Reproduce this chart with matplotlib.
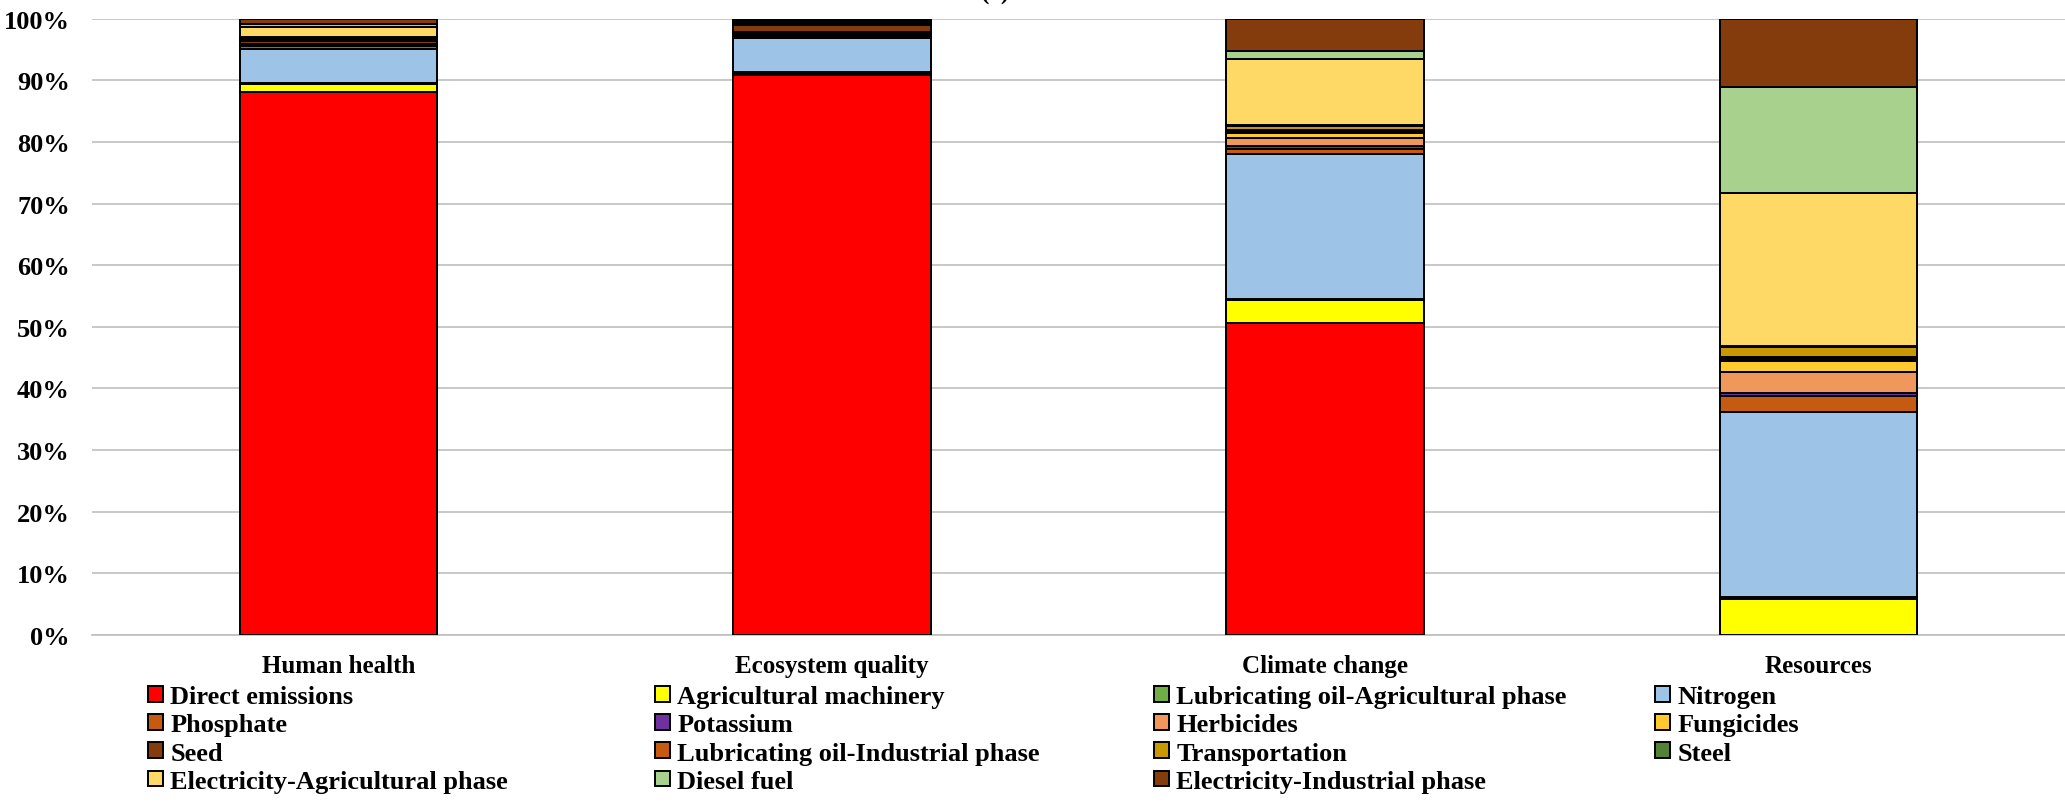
import matplotlib
matplotlib.use("Agg")
import matplotlib.pyplot as plt
from matplotlib.patches import Patch
import numpy as np

plt.rcParams['font.family'] = ['Liberation Serif', 'DejaVu Serif']
plt.rcParams['font.weight'] = 'bold'

categories = ["Human health", "Ecosystem quality", "Climate change", "Resources"]

series_names = [
    "Direct emissions", "Agricultural machinery", "Lubricating oil-Agricultural phase", "Nitrogen",
    "Phosphate", "Potassium", "Herbicides", "Fungicides",
    "Seed", "Lubricating oil-Industrial phase", "Transportation", "Steel",
    "Electricity-Agricultural phase", "Diesel fuel", "Electricity-Industrial phase",
]

# percentage contributions per category (Human health, Ecosystem quality, Climate change, Resources)
direct_emissions = [88.1, 90.8, 50.6, 0.0]
agricultural_machinery = [1.3, 0.3, 3.8, 5.8]
lub_oil_agricultural = [0.1, 0.1, 0.1, 0.4]
nitrogen = [5.6, 5.6, 23.5, 30.0]
phosphate = [0.4, 0.3, 0.9, 2.6]
potassium = [0.1, 0.1, 0.4, 0.5]
herbicides = [0.1, 0.2, 1.3, 3.3]
fungicides = [0.2, 0.4, 0.8, 1.8]
seed = [0.5, 1.0, 0.4, 0.4]
lub_oil_industrial = [0.3, 0.2, 0.1, 0.3]
transportation = [0.2, 0.2, 0.7, 1.7]
steel = [0.1, 0.1, 0.1, 0.1]
electricity_agricultural = [1.7, 0.2, 10.8, 24.8]
diesel_fuel = [0.4, 0.1, 1.2, 17.2]
electricity_industrial = [0.9, 0.3, 5.3, 11.1]

series_values = [
    direct_emissions, agricultural_machinery, lub_oil_agricultural, nitrogen,
    phosphate, potassium, herbicides, fungicides,
    seed, lub_oil_industrial, transportation, steel,
    electricity_agricultural, diesel_fuel, electricity_industrial,
]

colors = [
    "#FF0000", "#FFFF00", "#70AD47", "#9DC3E6",
    "#C55A11", "#7030A0", "#F0985C", "#FFCA2E",
    "#843C0C", "#C55A11", "#C99700", "#548235",
    "#FFD966", "#A9D18E", "#843C0C",
]

y_ticks = [0, 10, 20, 30, 40, 50, 60, 70, 80, 90, 100]
y_tick_labels = ["0%", "10%", "20%", "30%", "40%", "50%", "60%", "70%", "80%", "90%", "100%"]

W, H = 2065, 804
fig = plt.figure(figsize=(W / 100, H / 100), dpi=100)
ax = fig.add_axes([92 / W, 1 - 636 / H, 1 - 92 / W, (636 - 19.7) / H])

x = np.arange(len(categories))
totals = np.sum(np.array(series_values), axis=0)
bottom = np.zeros(len(categories))
handles = []
for name, vals, col in zip(series_names, series_values, colors):
    v = np.array(vals) / totals * 100
    ax.bar(x, v, width=0.4, bottom=bottom, color=col, edgecolor="black",
           linewidth=1.4, zorder=3)
    bottom += v
    handles.append(Patch(facecolor=col, edgecolor="black", linewidth=1.4, label=name))

ax.set_xlim(-0.5, len(categories) - 0.5)
ax.set_ylim(0, 100)
ax.set_yticks(y_ticks)
ax.set_yticklabels(y_tick_labels, fontsize=19, fontweight='bold')
ax.set_xticks(x)
ax.set_xticklabels(categories, fontsize=18, fontweight='bold')
ax.tick_params(axis='y', length=0, pad=16)
ax.tick_params(axis='x', length=0, pad=14)
ax.grid(axis='y', color="#BFBFBF", linewidth=1.2, zorder=0)
for s in ["top", "right", "left"]:
    ax.spines[s].set_visible(False)
ax.spines["bottom"].set_color("#BFBFBF")
ax.spines["bottom"].set_linewidth(1.2)

fig.text(996 / W, 1.0, "(a)", ha="center", va="baseline", fontsize=18, fontweight='bold')

# legend: 4 columns, row-wise order as in the reference
col_x = [148, 655, 1154, 1655]
for c in range(4):
    idx = list(range(c, len(handles), 4))
    fig.legend(handles=[handles[i] for i in idx], loc="upper left",
               bbox_to_anchor=(col_x[c] / W, 1 - 686 / H),
               frameon=False, handlelength=0.55, handleheight=0.55,
               handletextpad=0.3, labelspacing=0.2, borderpad=0, borderaxespad=0,
               prop={'weight': 'bold', 'size': 19})

fig.savefig("out.png", dpi=100)
